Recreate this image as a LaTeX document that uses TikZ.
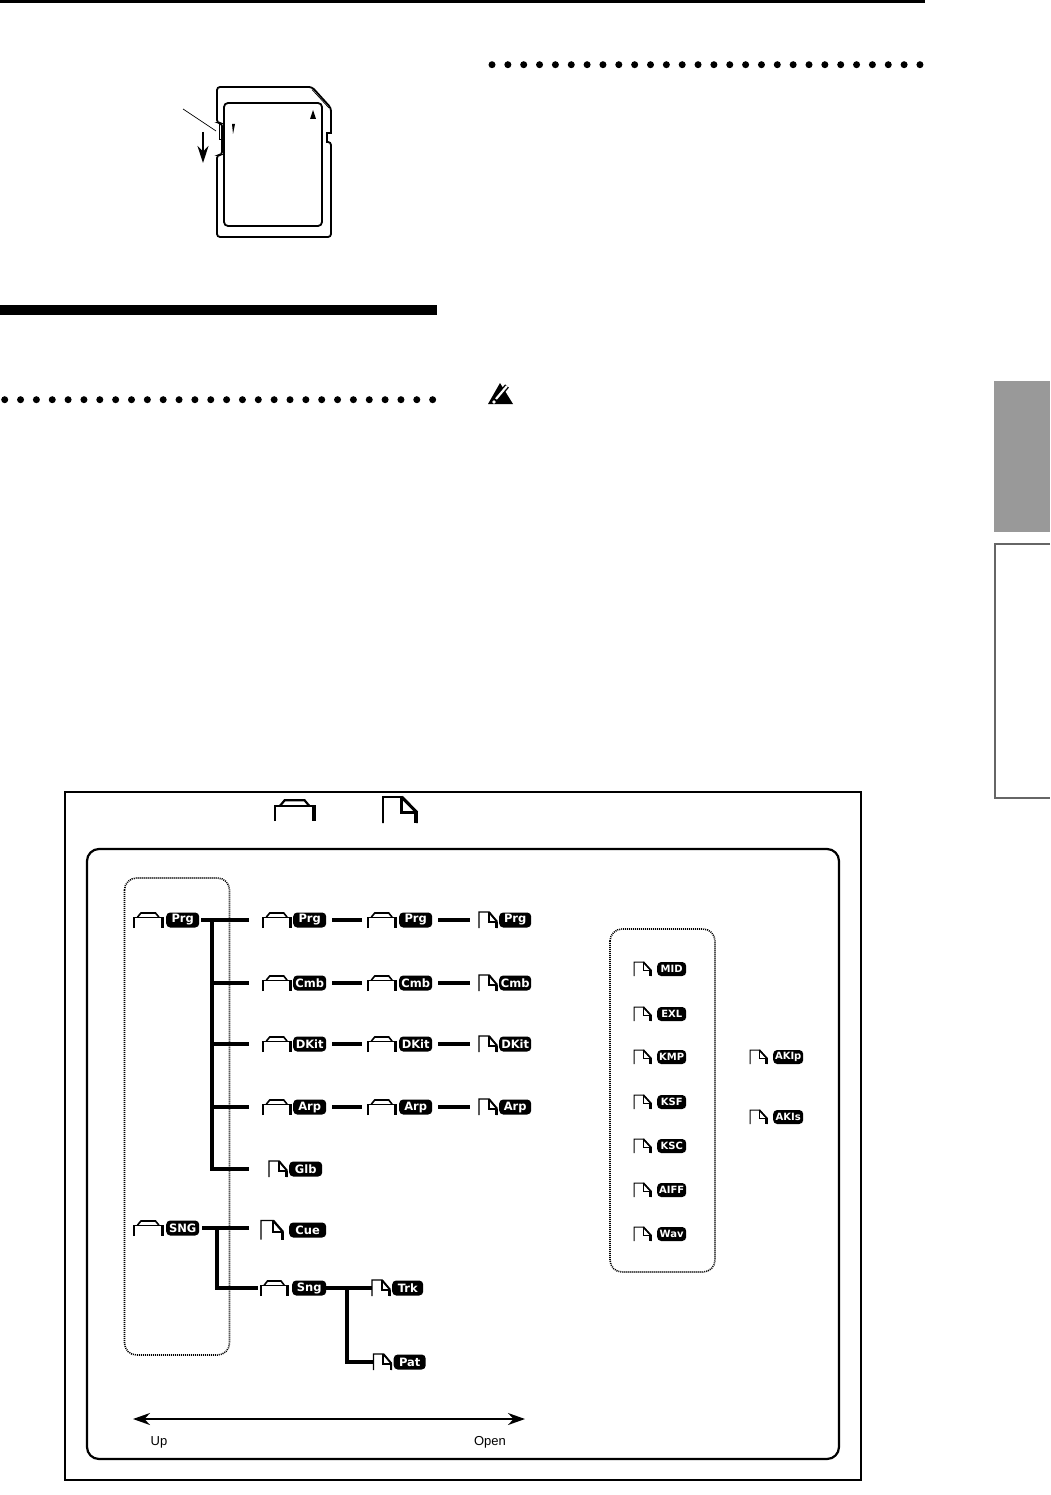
\documentclass[tikz,border=0pt]{standalone}
\usepackage{fontspec}
\setsansfont{Liberation Sans}
\newfontfamily\tagfont{DejaVu Sans}
\usetikzlibrary{positioning}
\usetikzlibrary{arrows.meta}
\tikzset{
    node distance=2pt, % gap between an icon and its tag
    tag/.style={fill=black,text=white,rounded corners=4pt,inner sep=0pt,
      minimum width=33pt,minimum height=15pt,
      font=\tagfont\bfseries\fontsize{11.5}{11.5}\selectfont},
    smalltag/.style={tag,minimum width=29pt,minimum height=14pt,
      font=\tagfont\bfseries\fontsize{10}{10}\selectfont},
    folder/.style 2 args={inner sep=0pt,outer sep=0pt,minimum width=#1,minimum height=#2,
      append after command={\pgfextra{
      \begin{scope}[shift={(\tikzlastnode.north west)},x=#1,y=-#2,line width=0.07*#2]
        \draw (0,1) -- (0,0.32) -- (1,0.32) -- (1,1);
        \draw[line width=0.1*#2] (0.12,0.32) -- (0.24,0.06) -- (0.74,0.06) -- (0.86,0.32);
        \draw[line width=0.16*#2] (0.98,0.32) -- (0.98,1);
      \end{scope}}}},
    file/.style 2 args={inner sep=0pt,outer sep=0pt,minimum width=#1,minimum height=#2,
      append after command={\pgfextra{
      \begin{scope}[shift={(\tikzlastnode.north west)},x=#1,y=-#2,line width=0.07*#2]
        \draw (0,1) -- (0,0) -- (0.55,0) -- (1,0.6) -- (1,1);
        \draw[line width=0.12*#2] (0.55,0) -- (0.55,0.6) -- (1,0.6);
        \draw[line width=0.12*#2] (0.55,0) -- (1,0.6);
        \draw[line width=0.16*#2] (0.97,0.6) -- (0.97,1);
      \end{scope}}}},
    branch/.style={line width=4pt},
    boxline/.style={line width=1.6pt,dash pattern=on 1pt off 1pt,rounded corners=12pt},
    dotrule/.style={line width=7pt,line cap=round,dash pattern=on 0pt off 15.85pt},
}
\begin{document}
\begin{tikzpicture}[x=1pt,y=-1pt]
  \useasboundingbox (0,0) rectangle (1050,1495);

  % page furniture
  \fill (0,0) rectangle (925,3);
  \fill (0,305) rectangle (437,315);
  \draw[dotrule] (4.7,399.7) -- (436,399.7);
  \draw[dotrule] (492,64.7) -- (924,64.7);
  \fill[black!40] (994,381) rectangle (1050,532);
  \draw[black!60,line width=2pt] (1050,544) -- (995,544) -- (995,798) -- (1050,798);

  % card
  \draw[line width=1.8pt,rounded corners=3pt] (260,87) -- (217,87) -- (217,123)
    -- (222,123) -- (222,155) -- (217,155) -- (217,237) -- (331,237) -- (331,142)
    [sharp corners] -- (327,142) -- (327,133) -- (331,133) [rounded corners=3pt]
    -- (331,108) -- (312,87) -- cycle;
  \draw[line width=0.7pt] (312,89.5) -- (329,108);
  \draw[line width=1.8pt,rounded corners=4pt] (224,103) rectangle (322,226);
  \draw[line width=1pt] (219,125) rectangle (221,140);
  \fill (313,110) -- (310,119) -- (316,119) -- cycle;
  \fill (232,124) -- (235,124) -- (233,134) -- cycle;
  \coordinate (c_a) at (183,109);
  \coordinate (c_b) at (216,131);
  \coordinate (c_c) at (203,132);
  \coordinate (c_d) at (203,163);
  \draw[line width=0.7pt] (c_a) -- (c_b);
  \draw[line width=1.5pt,-{Stealth[length=17pt,width=11pt]}] (c_c) -- (c_d);

  % warning mark
  \fill (500,383) -- (488,404) -- (513,404) -- cycle;
  \draw[line width=5pt] (496,399) -- (507,386);
  \draw[white,line width=2.2pt] (496,399) -- (507,386);
  \fill[white] (494,402) circle (1.8);

  % frames
  \draw[line width=2pt] (65,792) rectangle (861,1480);
  \draw[line width=2.2pt,rounded corners=12pt] (87,849) rectangle (839,1459);
  \draw[boxline] (124.5,878) rectangle (229.5,1355);
  \draw[boxline] (610,929) rectangle (715,1272);

  % legend icons
  \node[folder={40pt}{22pt}] (i_legend_a) at (295,810) {};
  \node[file={34pt}{26pt}] (i_legend_b) at (400,810) {};

  % top level
  \node[folder={29pt}{16pt}] (i_prg) at (148.5,920) {};
  \node[tag,right=3pt of i_prg] (t_prg) {Prg};
  \node[folder={29pt}{16pt}] (i_sng) at (148.5,1228) {};
  \node[tag,right=3pt of i_sng] (t_sng) {SNG};

  % second level
  \node[folder={28pt}{16pt}] (i_prg_2) at (277,920) {};
  \node[tag,right=2pt of i_prg_2] (t_prg_2) {Prg};
  \node[folder={28pt}{16pt}] (i_cmb_2) at (277,983) {};
  \node[tag,right=2pt of i_cmb_2] (t_cmb_2) {Cmb};
  \node[folder={28pt}{16pt}] (i_dkit_2) at (277,1044) {};
  \node[tag,right=2pt of i_dkit_2] (t_dkit_2) {DKit};
  \node[folder={28pt}{16pt}] (i_arp_2) at (277,1107) {};
  \node[tag,right=2pt of i_arp_2] (t_arp_2) {Arp};
  \node[file={18pt}{16pt}] (i_glb) at (278,1169) {};
  \node[tag,right=2pt of i_glb] (t_glb) {Glb};
  \node[file={22pt}{19pt}] (i_cue) at (272,1230) {};
  \node[tag,minimum width=37pt,right=6pt of i_cue] (t_cue) {Cue};
  \node[folder={27pt}{16pt}] (i_sng_2) at (274.5,1288) {};
  \node[tag,minimum width=34pt,right=4pt of i_sng_2] (t_sng_2) {Sng};

  % third level
  \node[folder={28pt}{16pt}] (i_prg_3) at (382,920) {};
  \node[tag,right=3pt of i_prg_3] (t_prg_3) {Prg};
  \node[folder={28pt}{16pt}] (i_cmb_3) at (382,983) {};
  \node[tag,right=3pt of i_cmb_3] (t_cmb_3) {Cmb};
  \node[folder={28pt}{16pt}] (i_dkit_3) at (382,1044) {};
  \node[tag,right=3pt of i_dkit_3] (t_dkit_3) {DKit};
  \node[folder={28pt}{16pt}] (i_arp_3) at (382,1107) {};
  \node[tag,right=3pt of i_arp_3] (t_arp_3) {Arp};
  \node[file={18pt}{16pt}] (i_trk) at (381,1288) {};
  \node[tag,minimum width=31pt,right=2pt of i_trk] (t_trk) {Trk};
  \node[file={18pt}{16pt}] (i_pat) at (382.5,1362) {};
  \node[tag,minimum width=32pt,right=2pt of i_pat] (t_pat) {Pat};

  % fourth level
  \node[file={18pt}{16pt}] (i_prg_4) at (488,920) {};
  \node[tag,minimum width=32pt,right=2pt of i_prg_4] (t_prg_4) {Prg};
  \node[file={18pt}{16pt}] (i_cmb_4) at (488,983) {};
  \node[tag,minimum width=32pt,right=2pt of i_cmb_4] (t_cmb_4) {Cmb};
  \node[file={18pt}{16pt}] (i_dkit_4) at (488,1044) {};
  \node[tag,minimum width=32pt,right=2pt of i_dkit_4] (t_dkit_4) {DKit};
  \node[file={18pt}{16pt}] (i_arp_4) at (488,1107) {};
  \node[tag,minimum width=32pt,right=2pt of i_arp_4] (t_arp_4) {Arp};

  % other files
  \node[file={17pt}{14pt}] (i_mid) at (642.5,969) {};
  \node[smalltag,right=6pt of i_mid] (t_mid) {MID};
  \node[file={17pt}{14pt}] (i_exl) at (642.5,1014) {};
  \node[smalltag,right=6pt of i_exl] (t_exl) {EXL};
  \node[file={17pt}{14pt}] (i_kmp) at (642.5,1057) {};
  \node[smalltag,right=6pt of i_kmp] (t_kmp) {KMP};
  \node[file={17pt}{14pt}] (i_ksf) at (642.5,1102) {};
  \node[smalltag,right=6pt of i_ksf] (t_ksf) {KSF};
  \node[file={17pt}{14pt}] (i_ksc) at (642.5,1146) {};
  \node[smalltag,right=6pt of i_ksc] (t_ksc) {KSC};
  \node[file={17pt}{14pt}] (i_aiff) at (642.5,1190) {};
  \node[smalltag,right=6pt of i_aiff] (t_aiff) {AIFF};
  \node[file={17pt}{14pt}] (i_wav) at (642.5,1234) {};
  \node[smalltag,right=6pt of i_wav] (t_wav) {Wav};
  \node[file={17pt}{14pt}] (i_akip) at (758.5,1057) {};
  \node[smalltag,minimum width=30pt,right=6pt of i_akip] (t_akip) {AKIp};
  \node[file={17pt}{14pt}] (i_akis) at (758.5,1117) {};
  \node[smalltag,minimum width=30pt,right=6pt of i_akis] (t_akis) {AKIs};

  % tree
  \coordinate (j_prg) at (212,920);
  \coordinate (j_sng) at (217,1228);
  \coordinate (j_sng_2) at (347,1288);
  \draw[branch,shorten <=2pt,shorten >=14pt] (t_prg) -- (i_prg_2);
  \draw[branch,shorten >=20pt] (j_prg) |- (i_glb.west);
  \draw[branch,shorten >=14pt] (j_prg |- i_cmb_2) -- (i_cmb_2);
  \draw[branch,shorten >=14pt] (j_prg |- i_dkit_2) -- (i_dkit_2);
  \draw[branch,shorten >=14pt] (j_prg |- i_arp_2) -- (i_arp_2);
  \path[branch,shorten <=6pt,shorten >=6pt]
    (t_prg_2) edge (i_prg_3)
    (t_cmb_2) edge (i_cmb_3)
    (t_dkit_2) edge (i_dkit_3)
    (t_arp_2) edge (i_arp_3);
  \path[branch,shorten <=6pt,shorten >=9pt]
    (t_prg_3) edge (i_prg_4)
    (t_cmb_3) edge (i_cmb_4)
    (t_dkit_3) edge (i_dkit_4)
    (t_arp_3) edge (i_arp_4);
  \draw[branch,shorten <=3pt,shorten >=12pt] (t_sng.east) -- (t_sng.east -| i_cue.west);
  \draw[branch,shorten >=3pt] (j_sng) |- (i_sng_2.west);
  \draw[branch] (t_sng_2) -- (i_trk);
  \draw[branch] (j_sng_2) |- (i_pat.west);

  % direction arrow
  \coordinate (a_up) at (133,1419);
  \coordinate (a_open) at (525,1419);
  \draw[line width=2pt,{Stealth[length=17pt,width=12pt]}-{Stealth[length=17pt,width=12pt]}] (a_up) -- (a_open);
  \node[font=\sffamily\fontsize{13}{13}\selectfont] (l_up) at (159,1442) {Up};
  \node[font=\sffamily\fontsize{13}{13}\selectfont] (l_open) at (490,1442) {Open};
\end{tikzpicture}
\end{document}
